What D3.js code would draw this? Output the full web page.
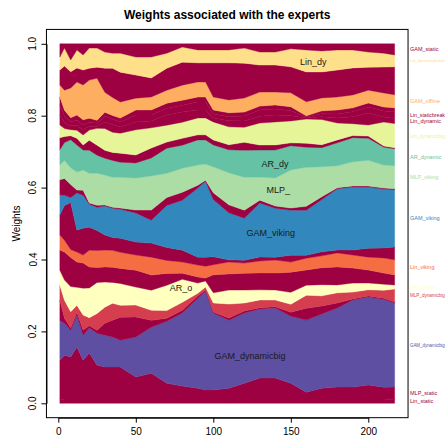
<!DOCTYPE html>
<html><head><meta charset="utf-8">
<script src="https://cdn.jsdelivr.net/npm/d3@7"></script>
<style>
body{margin:0;background:#fff}
svg{display:block;font-family:"Liberation Sans",Arial,Helvetica,sans-serif}
</style>
</head><body>
<svg id="chart" width="447" height="437"></svg>
<script>
// ---- data (weights of each expert, stacked from bottom to top) ----
const times = [1,4,8,12,16,20,25,30,35,40,50,60,70,80,90,95,100,110,120,130,140,150,160,170,180,190,200,210,217];

const w_Lin_static       = [.012,.009,.009,.009,.009,.009,.009,.009,.009,.009,.009,.009,.009,.009,.009,.009,.009,.009,.009,.009,.009,.009,.009,.009,.009,.009,.009,.009,.012];
const w_MLP_static       = [.108,.125,.120,.147,.111,.131,.097,.092,.092,.092,.064,.075,.047,.039,.033,.028,.028,.033,.047,.061,.061,.047,.022,.033,.036,.036,.042,.036,.033];
const w_GAM_dynamicbig   = [.111,.089,.075,.089,.070,.070,.089,.089,.083,.075,.111,.128,.172,.203,.250,.275,.214,.189,.195,.192,.195,.186,.200,.206,.220,.242,.245,.245,.234];
const w_other1           = [.056,.014,.006,.008,.014,.006,.008,.033,.047,.064,.056,.019,.008,.008,.006,.003,.003,.006,.006,.003,.003,.011,.033,.022,.014,.003,.003,.003,.003];
const w_MLP_dynamicbig   = [.042,.050,.045,.019,.042,.022,.047,.045,.047,.033,.033,.028,.022,.022,.008,.008,.025,.039,.022,.022,.019,.022,.036,.028,.028,.019,.017,.022,.036];
const w_AR_offline       = [.042,.056,.070,.050,.075,.083,.086,.070,.058,.061,.050,.056,.070,.064,.028,.017,.028,.039,.036,.028,.028,.033,.028,.031,.022,.025,.019,.017,.011];
const w_other2           = [.056,.078,.081,.070,.070,.058,.042,.042,.042,.042,.047,.042,.033,.017,.017,.008,.050,.045,.047,.047,.047,.056,.042,.047,.050,.042,.036,.031,.028];
const w_Lin_viking       = [.042,.033,.022,.028,.022,.047,.047,.047,.047,.045,.042,.050,.036,.031,.033,.033,.028,.033,.028,.033,.036,.028,.033,.033,.039,.036,.036,.042,.042];
const w_other3           = [.056,.097,.131,.061,.075,.064,.056,.042,.036,.039,.036,.039,.036,.033,.022,.025,.022,.006,.008,.011,.008,.019,.008,.011,.008,.014,.025,.028,.036];
const w_GAM_viking       = [.056,.028,.014,.103,.092,.064,.064,.081,.081,.081,.081,.064,.117,.139,.192,.211,.159,.131,.117,.150,.136,.125,.125,.145,.170,.175,.170,.164,.159];
const w_other4           = [.042,.047,.036,.008,.014,.003,.006,.003,.003,.003,.008,.028,.022,.022,.008,.003,.019,.022,.022,.008,.006,.006,.011,.008,.003,.003,.003,.003,.003];
const w_MLP_viking       = [.042,.050,.047,.050,.056,.083,.089,.083,.083,.086,.089,.095,.067,.067,.056,.045,.072,.089,.092,.064,.078,.106,.108,.083,.061,.067,.072,.064,.064];
const w_AR_dynamic       = [.042,.050,.078,.075,.056,.064,.050,.047,.047,.042,.042,.050,.070,.064,.070,.067,.061,.064,.075,.075,.078,.067,.056,.053,.064,.067,.061,.050,.047];
const w_other5           = [.033,.017,.011,.019,.014,.028,.028,.022,.022,.025,.022,.028,.017,.019,.014,.014,.014,.014,.022,.014,.014,.008,.011,.008,.008,.006,.006,.003,.003];
const w_Lin_dynamicbig   = [.036,.022,.017,.022,.028,.028,.047,.061,.056,.056,.070,.056,.047,.045,.047,.047,.050,.050,.042,.061,.064,.061,.067,.070,.047,.033,.031,.067,.067];
const w_Lin_dynamic      = [.028,.017,.011,.014,.014,.011,.006,.017,.022,.017,.022,.019,.028,.028,.022,.022,.011,.017,.017,.019,.019,.014,.003,.008,.014,.019,.033,.014,.014];
const w_Lin_staticbreak  = [.028,.017,.011,.014,.014,.011,.008,.017,.014,.014,.019,.017,.019,.019,.022,.022,.011,.011,.014,.017,.017,.014,.003,.008,.011,.014,.017,.017,.019];
const w_other6           = [.022,.017,.011,.014,.014,.011,.008,.011,.011,.011,.014,.014,.014,.014,.014,.014,.011,.011,.011,.011,.011,.011,.003,.008,.011,.011,.011,.011,.011];
const w_GAM_offline      = [.033,.056,.083,.092,.097,.106,.117,.056,.050,.045,.033,.036,.036,.042,.042,.042,.036,.036,.039,.039,.036,.039,.039,.036,.036,.036,.036,.039,.036];
const w_other7           = [.042,.067,.045,.039,.042,.033,.031,.067,.081,.083,.064,.053,.061,.064,.053,.053,.095,.103,.097,.075,.075,.072,.083,.072,.075,.075,.064,.072,.078];
const w_Lin_dynamicbreak = [.036,.050,.033,.050,.042,.056,.053,.045,.042,.053,.050,.058,.042,.042,.036,.036,.036,.036,.042,.036,.036,.050,.061,.058,.056,.050,.042,.039,.033];
const w_GAM_static       = [.037,.012,.045,.017,.031,.012,.012,.023,.026,.026,.037,.037,.026,.009,.017,.017,.017,.017,.012,.023,.023,.014,.017,.020,.017,.017,.023,.026,.031];

// expert names in stacking order ("" = expert not named on the right margin)
const expertNames = ["Lin_static","MLP_static","GAM_dynamicbig","","MLP_dynamicbig","AR_offline","","Lin_viking","","GAM_viking","","MLP_viking","AR_dynamic","","Lin_dynamicbig","Lin_dynamic","Lin_staticbreak","","GAM_offline","","Lin_dynamicbreak","GAM_static"];
const weightSeries = [w_Lin_static,w_MLP_static,w_GAM_dynamicbig,w_other1,w_MLP_dynamicbig,w_AR_offline,w_other2,w_Lin_viking,w_other3,w_GAM_viking,w_other4,w_MLP_viking,w_AR_dynamic,w_other5,w_Lin_dynamicbig,w_Lin_dynamic,w_Lin_staticbreak,w_other6,w_GAM_offline,w_other7,w_Lin_dynamicbreak,w_GAM_static];

// labels written inside the plot: [text, time, weight level]
const insideText = ["Lin_dy","AR_dy","MLP_","GAM_viking","AR_o","GAM_dynamicbig"];
const insideT    = [164.5, 139.8, 141.9, 137, 79.2, 123.7];
const insideW    = [0.950, 0.666, 0.593, 0.473, 0.320, 0.132];

const xTicks = [0,50,100,150,200];
const yTicks = [0,0.2,0.4,0.6,0.8,1.0];

// ---- styles ----
const DR = "#9E0142";
const colors = [DR,DR,"#5E4FA2",DR,"#D53E4F","#FFFFBF",DR,"#F46D43",DR,"#3288BD",DR,"#ABDDA4","#66C2A5",DR,"#E6F598",DR,DR,DR,"#FDAE61",DR,"#FEE08B",DR];

const svg = d3.select("#chart");
const x = d3.scaleLinear().domain([0,200]).range([58.3,368.3]);
const y = d3.scaleLinear().domain([0,1]).range([403.3,43.8]);

const K = weightSeries.length;
const table = times.map((t,i)=>{
  const row = {t};
  let s = 0;
  for (let k=0;k<K;k++) s += weightSeries[k][i];
  for (let k=0;k<K;k++) row[k] = weightSeries[k][i]/s;
  return row;
});
const stacked = d3.stack().keys(d3.range(K))(table);

const area = d3.area()
  .x(d=>x(d.data.t))
  .y0(d=>y(d[0]))
  .y1(d=>y(d[1]));

svg.append("g").selectAll("path").data(stacked).join("path")
  .attr("d", area)
  .attr("fill", (d,i)=>colors[i])
  .attr("stroke", (d,i)=>colors[i])
  .attr("stroke-width", 0.4);

// box (R style: 4% extension)
const x0 = x(1 - 216*0.04), x1 = x(217 + 216*0.04);
const yb = y(-0.04), yt = y(1.04);
svg.append("rect").attr("x",x0).attr("y",yt).attr("width",x1-x0).attr("height",yb-yt)
  .attr("fill","none").attr("stroke","#000").attr("stroke-width",1);

// x axis
const gx = svg.append("g").attr("transform",`translate(0,${yb})`)
  .call(d3.axisBottom(x).tickValues(xTicks).tickSize(5).tickSizeOuter(0).tickPadding(5.5).tickFormat(d3.format("d")));
gx.select(".domain").attr("stroke","#000");
gx.selectAll("line").attr("stroke","#000");
gx.selectAll("text").attr("font-size",10).attr("fill","#000").attr("font-family","Liberation Sans, Arial, sans-serif");

// y axis
const gy = svg.append("g").attr("transform",`translate(${x0},0)`)
  .call(d3.axisLeft(y).tickValues(yTicks).tickSize(5).tickSizeOuter(0).tickFormat(""));
gy.select(".domain").attr("stroke","#000");
gy.selectAll("line").attr("stroke","#000");
svg.append("g").selectAll("text").data(yTicks).join("text")
  .attr("x",33).attr("y",d=>y(d))
  .attr("transform",d=>`rotate(-90,33,${y(d)})`)
  .attr("text-anchor","middle").attr("dominant-baseline","central")
  .attr("font-size",10).text(d=>d3.format(".1f")(d));

// y label
const ymid = (y(0)+y(1))/2;
svg.append("text").attr("x",17).attr("y",ymid)
  .attr("transform",`rotate(-90,17,${ymid})`)
  .attr("text-anchor","middle").attr("dominant-baseline","central")
  .attr("font-size",10).text("Weights");

// title
svg.append("text").attr("x",(x0+x1)/2).attr("y",19)
  .attr("text-anchor","middle").attr("font-size",12).attr("font-weight","bold")
  .text("Weights associated with the experts");

// right margin names at the middle of each layer at the last time
const last = stacked.map(s=>s[s.length-1]);
const maxW = 445 - 410;
svg.append("g").selectAll("text").data(d3.range(K).filter(k=>expertNames[k]!=="")).join("text")
  .attr("x",410).attr("y",k=>y((last[k][0]+last[k][1])/2))
  .attr("dominant-baseline","central").attr("font-size",5.5)
  .attr("fill",k=>colors[k]).text(k=>expertNames[k])
  .each(function(){
    const w = this.getComputedTextLength();
    if (w > maxW) d3.select(this).attr("font-size", (5.5*maxW/w).toFixed(2));
  });

// names inside the plot
svg.append("g").selectAll("text").data(insideText).join("text")
  .attr("x",(d,i)=>x(insideT[i])).attr("y",(d,i)=>y(insideW[i]))
  .attr("text-anchor","middle").attr("dominant-baseline","central")
  .attr("font-size",9).attr("fill","#1a1a1a").text(d=>d);
</script>
</body></html>
